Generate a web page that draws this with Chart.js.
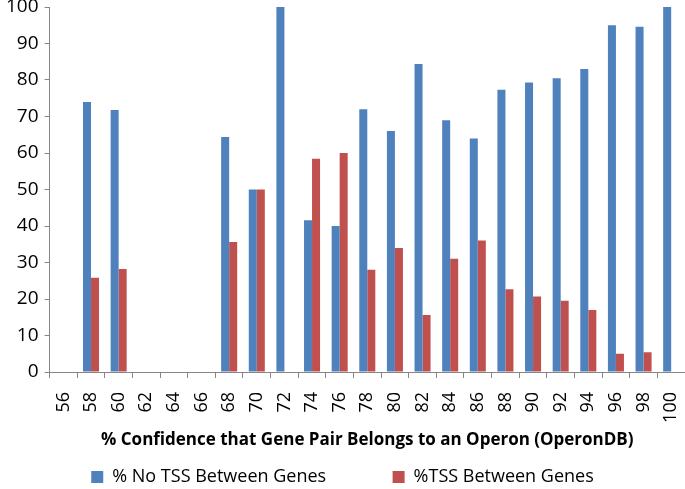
<!DOCTYPE html>
<html>
<head>
<meta charset="utf-8">
<script src="https://cdn.jsdelivr.net/npm/chart.js@4"></script>
<style>
  html, body { margin: 0; padding: 0; background: #fff; overflow: hidden; }
  #wrap { width: 685px; height: 489px; }
</style>
</head>
<body>
<div id="wrap"><canvas id="barChart" width="685" height="489"></canvas></div>
<script>
// categories: % confidence (OperonDB)
var confidence = ['56', '58', '60', '62', '64', '66', '68', '70', '72', '74', '76', '78',
                  '80', '82', '84', '86', '88', '90', '92', '94', '96', '98', '100'];

// % of gene pairs with no TSS between genes
var noTss = [0, 74, 71.8, 0, 0, 0, 64.4, 50, 100, 41.6, 40, 72,
             66, 84.4, 69, 64, 77.3, 79.3, 80.5, 83, 95, 94.6, 100];

// % of gene pairs with a TSS between genes
var withTss = [0, 25.8, 28.2, 0, 0, 0, 35.6, 50, 0, 58.4, 60, 28,
               34, 15.6, 31, 36, 22.7, 20.7, 19.5, 17, 5, 5.4, 0];

var yTicks = [0, 10, 20, 30, 40, 50, 60, 70, 80, 90, 100];

var fontFamily = "'Open Sans', 'Liberation Sans', sans-serif";

var barChart = new Chart(document.getElementById('barChart'), {
  type: 'bar',
  data: {
    labels: confidence,
    datasets: [{
      label: '% No TSS Between Genes',
      data: noTss,
      backgroundColor: '#4F81BD',
      borderWidth: 0,
      categoryPercentage: 0.58,
      barPercentage: 1.0
    }, {
      label: '%TSS Between Genes',
      data: withTss,
      backgroundColor: '#C0504D',
      borderWidth: 0,
      categoryPercentage: 0.58,
      barPercentage: 1.0
    }]
  },
  options: {
    responsive: false,
    animation: false,
    // negative bottom padding eats the legend's fixed 10px bottom gap
    layout: { padding: { top: 7, right: 0, left: 0, bottom: -7 } },
    plugins: {
      tooltip: { enabled: false },
      legend: {
        display: true,
        position: 'bottom',
        labels: {
          boxWidth: 12,
          boxHeight: 12,
          padding: 1,
          color: '#000',
          font: { family: fontFamily, size: 18 },
          generateLabels: function (chart) {
            // extra gap after the first entry, like the original legend
            var items = Chart.defaults.plugins.legend.labels.generateLabels(chart);
            items[0].text = items[0].text + '              ';
            return items;
          }
        }
      }
    },
    scales: {
      x: {
        afterFit: function (axis) {
          // plot runs to the right edge, fixed room for labels + title
          axis.paddingRight = 0;
          axis.height = 95;
        },
        grid: {
          offset: true,
          drawOnChartArea: false,
          drawTicks: true,
          tickLength: 6,
          color: '#868686'
        },
        border: { color: '#868686' },
        ticks: {
          minRotation: 90,
          maxRotation: 90,
          autoSkip: false,
          color: '#000',
          padding: 14,
          font: { family: fontFamily, size: 18 }
        },
        title: {
          display: true,
          text: '% Confidence that Gene Pair Belongs to an Operon (OperonDB)',
          color: '#000',
          padding: { top: 4, bottom: 17 },
          font: { family: fontFamily, size: 17, weight: 'bold' }
        }
      },
      y: {
        min: 0,
        max: 100,
        afterBuildTicks: function (axis) {
          axis.ticks = yTicks.map(function (v) { return { value: v }; });
        },
        afterFit: function (axis) {
          axis.paddingTop = 0;
        },
        grid: {
          drawOnChartArea: false,
          drawTicks: true,
          tickLength: 5,
          color: '#868686'
        },
        border: { color: '#868686' },
        ticks: {
          color: '#000',
          padding: 6,
          font: { family: fontFamily, size: 19 }
        }
      }
    }
  }
});
</script>
</body>
</html>
